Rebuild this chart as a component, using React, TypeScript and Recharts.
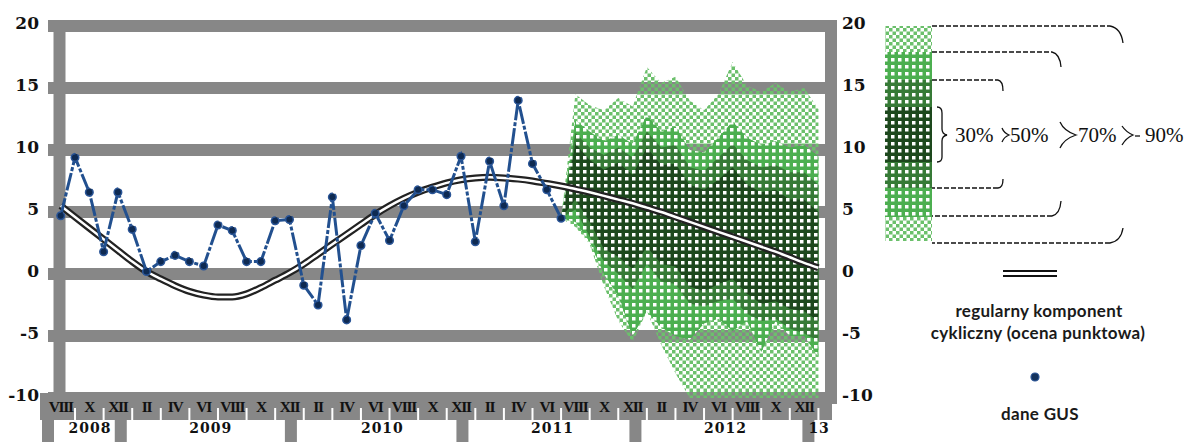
import { ComposedChart, Line, Area, XAxis, YAxis, CartesianGrid } from 'recharts';

// dane GUS, VIII 2008 - VII 2011
const gus = [4.7, 9.4, 6.6, 1.8, 6.6, 3.6, 0.2, 1.0, 1.5, 1.0, 0.65, 3.95, 3.5, 1.0, 1.0, 4.3, 4.4, -0.9, -2.5, 6.2,
  -3.7, 2.3, 4.9, 2.7, 5.5, 6.8, 6.8, 6.4, 9.5, 2.6, 9.1, 5.5, 14.0, 8.9, 6.8, 4.5];

// regularny komponent cykliczny, VIII 2008 - I 2013
const cyclic = [5.5, 4.6, 3.7, 2.8, 1.9, 1.0, 0.2, -0.4, -0.95, -1.4,
  -1.7, -1.85, -1.85, -1.6, -1.1, -0.5, 0.1, 0.8, 1.6, 2.4,
  3.2, 4.0, 4.8, 5.5, 6.1, 6.6, 7.0, 7.35, 7.6, 7.75,
  7.8, 7.75, 7.65, 7.5, 7.3, 7.1, 6.85, 6.6, 6.3, 6.0,
  5.7, 5.35, 5.0, 4.6, 4.2, 3.8, 3.4, 3.0, 2.6, 2.2,
  1.8, 1.35, 0.9, 0.5];

// fan chart bounds, VII 2011 - I 2013
const fanStart = 35;
const hi90 = [4.5, 14.5, 13.6, 13.2, 14.2, 13.5, 16.7, 15.4, 15.9, 14.0, 13.2, 14.5, 17.1, 15.2, 14.7, 15.4, 14.7, 15.0, 13.3];
const hi70 = [4.5, 12.4, 11.5, 10.7, 11.2, 10.5, 12.8, 11.5, 11.9, 10.0, 9.8, 11.0, 12.3, 11.0, 10.4, 10.7, 10.2, 10.4, 9.5];
const hi50 = [4.5, 11.4, 10.2, 9.6, 10.2, 9.4, 11.5, 10.2, 10.4, 8.6, 8.3, 9.4, 10.5, 9.2, 8.6, 8.8, 8.2, 8.2, 7.2];
const hi30 = [4.5, 10.5, 9.2, 8.4, 9.0, 8.0, 10.2, 8.8, 8.9, 7.2, 6.8, 7.6, 8.6, 7.2, 6.6, 6.8, 6.0, 6.0, 5.0];
const lo30 = [4.5, 6.0, 4.2, 2.0, 1.4, 0.4, 2.2, 0.8, 0.6, -1.0, -1.4, -0.8, -0.4, -1.6, -2.4, -2.2, -2.8, -3.0, -3.8];
const lo50 = [4.5, 5.2, 3.0, 1.0, 0.0, -1.2, 0.8, -0.6, -0.8, -2.4, -2.6, -2.2, -2.0, -3.2, -3.8, -3.6, -4.4, -4.8, -5.4];
const lo70 = [4.5, 4.2, 2.6, 0.0, -1.8, -5.0, -3.0, -4.3, -5.0, -5.3, -4.0, -3.6, -4.6, -3.8, -6.3, -3.8, -5.0, -5.0, -6.7];
const lo90 = [4.5, 3.8, 2.4, -1.0, -3.8, -5.5, -3.0, -5.7, -8.0, -10, -10, -10, -10, -10, -10, -10, -10, -10, -10];

const monthLabels = ['VIII', 'X', 'XII',
  'II', 'IV', 'VI', 'VIII', 'X', 'XII',
  'II', 'IV', 'VI', 'VIII', 'X', 'XII',
  'II', 'IV', 'VI', 'VIII', 'X', 'XII',
  'II', 'IV', 'VI', 'VIII', 'X', 'XII'];
const yearLabels = ['2008', '2009', '2010', '2011', '2012', '13'];
const yearPos = [2.05, 10.5, 22.5, 34.4, 46.5, 53.05];
const yearSeps = [-0.89, 4.2, 16.1, 28.1, 40.2, 52.3];
const yTicks = [-10, -5, 0, 5, 10, 15, 20];

const data = cyclic.map((c, i) => {
  const k = i - fanStart;
  const inFan = k >= 0 && k < hi90.length;
  return {
    i,
    cyc: c,
    gus: i < gus.length ? gus[i] : null,
    b90: inFan ? [lo90[k], hi90[k]] : null,
    b70: inFan ? [lo70[k], hi70[k]] : null,
    b50: inFan ? [lo50[k], hi50[k]] : null,
    b30: inFan ? [lo30[k], hi30[k]] : null,
  };
});

const GREY = '#878787';
const C90 = '#6cc06c';
const C70 = '#4caf50';
const C50 = '#367a36';
const C30 = '#1d481d';
const xDomain = [-0.89, 54.3];
const monthTicks = cyclic.map((_, i) => i);

const numStyle = { fontFamily: 'DejaVu Serif', fontWeight: 700, fontSize: 17, fill: '#111' };

const LeftTick = ({ x, y, payload }: any) => (
  <text x={x} y={y - 3} textAnchor="end" dominantBaseline="central" style={numStyle}>{payload.value}</text>
);
const RightTick = ({ x, y, payload }: any) => (
  <text x={x} y={y - 3} textAnchor="start" dominantBaseline="central" style={numStyle}>{payload.value}</text>
);
const MonthTick = ({ x, y, payload }: any) => {
  const i = payload.value;
  if (i % 2 === 1) return <rect x={x - 1} y={y + 10} width={2} height={12} fill="#fff" />;
  return (
    <text x={x} y={y + 8} textAnchor="middle" dominantBaseline="central"
      style={{ fontFamily: 'Liberation Serif', fontWeight: 700, fontSize: 15.5, letterSpacing: -1.3, fill: '#111' }}>
      {monthLabels[i / 2]}
    </text>
  );
};
const YearTick = ({ x, y, payload }: any) => {
  const v = payload.value;
  if (yearSeps.indexOf(v) >= 0) return <rect x={x - 6} y={y} width={12} height={22} fill={GREY} />;
  return (
    <text x={x} y={y + 8} textAnchor="middle" dominantBaseline="central"
      style={{ fontFamily: 'DejaVu Serif', fontWeight: 700, fontSize: 14, letterSpacing: 1, fill: '#111' }}>
      {yearLabels[yearPos.indexOf(v)]}
    </text>
  );
};

function Patterns({ prefix }: { prefix: string }) {
  const dots = (id: string, color: string) => (
    <pattern id={prefix + id} width={7} height={7} patternUnits="userSpaceOnUse">
      <rect width={7} height={7} fill={color} />
      <rect x={2} y={2} width={3.5} height={3.5} fill="#fff" />
    </pattern>
  );
  return (
    <defs>
      <pattern id={prefix + '90'} width={7} height={7} patternUnits="userSpaceOnUse">
        <rect width={3.5} height={3.5} fill={C90} />
        <rect x={3.5} y={3.5} width={3.5} height={3.5} fill={C90} />
      </pattern>
      {dots('70', C70)}
      {dots('50', C50)}
      {dots('30', C30)}
    </defs>
  );
}

function Legend() {
  const dash = { stroke: '#111', strokeWidth: 1.3, fill: 'none', strokeDasharray: '5 2' };
  const solid = { stroke: '#111', strokeWidth: 1.3, fill: 'none' };
  const pct = { fontFamily: 'Liberation Serif', fontSize: 21, fill: '#111' };
  const txt = { fontFamily: 'Lato', fontWeight: 700, fontSize: 17, fill: '#1a1a1a', letterSpacing: 0.3 };
  const x0 = 885;
  const w = 47;
  return (
    <svg width={1191} height={442} style={{ position: 'absolute', left: 0, top: 0, pointerEvents: 'none' }}>
      <Patterns prefix="lg" />
      <rect x={x0} y={26} width={w} height={26} fill="url(#lg90)" />
      <rect x={x0} y={52} width={w} height={28} fill="url(#lg70)" />
      <rect x={x0} y={80} width={w} height={27} fill="url(#lg50)" />
      <rect x={x0} y={107} width={w} height={55} fill="url(#lg30)" />
      <rect x={x0} y={162} width={w} height={26} fill="url(#lg50)" />
      <rect x={x0} y={188} width={w} height={29} fill="url(#lg70)" />
      <rect x={x0} y={217} width={w} height={24} fill="url(#lg90)" />

      <path d="M937 107 Q942 107 942 113 L942 129 Q942 134 947 135 Q942 136 942 141 L942 157 Q942 162 937 162" style={solid} />
      <text x={955} y={135} dominantBaseline="central" style={pct}>30%</text>

      <path d="M932 80 L998 80" style={dash} />
      <path d="M998 80 Q1003 81 1003 91" style={solid} />
      <path d="M1003 179 Q1003 188 998 188" style={solid} />
      <path d="M998 188 L932 188" style={dash} />
      <path d="M1002 128 Q1004 133 1009 135 Q1004 137 1002 142" style={solid} />
      <text x={1010} y={135} dominantBaseline="central" style={pct}>50%</text>

      <path d="M932 52 L1052 52" style={dash} />
      <path d="M1052 52 Q1060 54 1061 67" style={solid} />
      <path d="M1061 201 Q1060 214 1052 216" style={solid} />
      <path d="M1052 216 L932 216" style={dash} />
      <path d="M1060 122 Q1064 131 1076 135 Q1064 139 1060 148" style={solid} />
      <text x={1078} y={135} dominantBaseline="central" style={pct}>70%</text>

      <path d="M932 26 L1110 26" style={dash} />
      <path d="M1110 26 Q1121 28 1123 43" style={solid} />
      <path d="M1123 228 Q1121 241 1110 243" style={solid} />
      <path d="M1110 243 L932 243" style={dash} />
      <path d="M1122 126 Q1126 132 1133 135 Q1126 138 1122 145" style={solid} />
      <path d="M1135 136 L1140 136" style={solid} />
      <text x={1145} y={135} dominantBaseline="central" style={pct}>90%</text>

      <line x1={1003} x2={1057} y1={271} y2={271} stroke="#111" strokeWidth={1.8} />
      <line x1={1003} x2={1057} y1={276} y2={276} stroke="#111" strokeWidth={1.8} />
      <text x={1039} y={310} textAnchor="middle" dominantBaseline="central" style={txt}>regularny komponent</text>
      <text x={1038} y={332} textAnchor="middle" dominantBaseline="central" style={txt}>cykliczny (ocena punktowa)</text>
      <circle cx={1035} cy={377} r={4} fill="#14325c" stroke="#2a5597" strokeWidth={1.2} />
      <text x={1040} y={413} textAnchor="middle" dominantBaseline="central" style={txt}>dane GUS</text>
    </svg>
  );
}

export default function App() {
  return (
    <div style={{ position: 'absolute', left: 0, top: 0, width: 1191, height: 442, background: '#fff', overflow: 'hidden' }}>
      <div style={{ position: 'absolute', left: 40, top: 393, width: 792, height: 27, background: GREY }} />
      <div style={{ position: 'absolute', left: 0, top: 0 }}>
        <ComposedChart width={1191} height={442} data={data} margin={{ top: 26, right: 314, bottom: 0, left: 0 }}>
          <Patterns prefix="fan" />
          <CartesianGrid stroke={GREY} strokeWidth={12} verticalPoints={[59.5, 831]} />
          <XAxis dataKey="i" type="number" domain={xDomain} allowDataOverflow ticks={monthTicks} interval={0}
            tick={<MonthTick />} tickLine={false} axisLine={false} tickSize={0} tickMargin={0} height={22} />
          <XAxis xAxisId="yr" dataKey="i" type="number" domain={xDomain} allowDataOverflow
            ticks={[...yearSeps, ...yearPos]} interval={0} tick={<YearTick />} tickLine={false} axisLine={false}
            tickSize={0} tickMargin={0} height={22} />
          <YAxis domain={[-10, 20]} allowDataOverflow ticks={yTicks} interval={0} width={48} tick={<LeftTick />}
            tickLine={false} axisLine={false} tickSize={0} tickMargin={9} />
          <YAxis yAxisId="r" orientation="right" domain={[-10, 20]} allowDataOverflow ticks={yTicks} interval={0}
            width={40} tick={<RightTick />} tickLine={false} axisLine={false} tickSize={0} tickMargin={5} />
          <Area dataKey="b90" fill="url(#fan90)" fillOpacity={1} stroke="none" isAnimationActive={false} />
          <Area dataKey="b70" fill="url(#fan70)" fillOpacity={1} stroke="none" isAnimationActive={false} />
          <Area dataKey="b50" fill="url(#fan50)" fillOpacity={1} stroke="none" isAnimationActive={false} />
          <Area dataKey="b30" fill="url(#fan30)" fillOpacity={1} stroke="none" isAnimationActive={false} />
          <Line dataKey="cyc" type="monotone" stroke="#222" strokeWidth={7} dot={false} activeDot={false} isAnimationActive={false} />
          <Line dataKey="cyc" type="monotone" stroke="#fff" strokeWidth={2.5} dot={false} activeDot={false} isAnimationActive={false} />
          <Line dataKey="gus" type="linear" stroke="#22508f" strokeWidth={3} strokeDasharray="18 2 4 2"
            dot={{ r: 3.8, fill: '#0e2a52', stroke: '#2a5597', strokeWidth: 1.5 }} activeDot={false} isAnimationActive={false} />
        </ComposedChart>
      </div>
      <Legend />
    </div>
  );
}
